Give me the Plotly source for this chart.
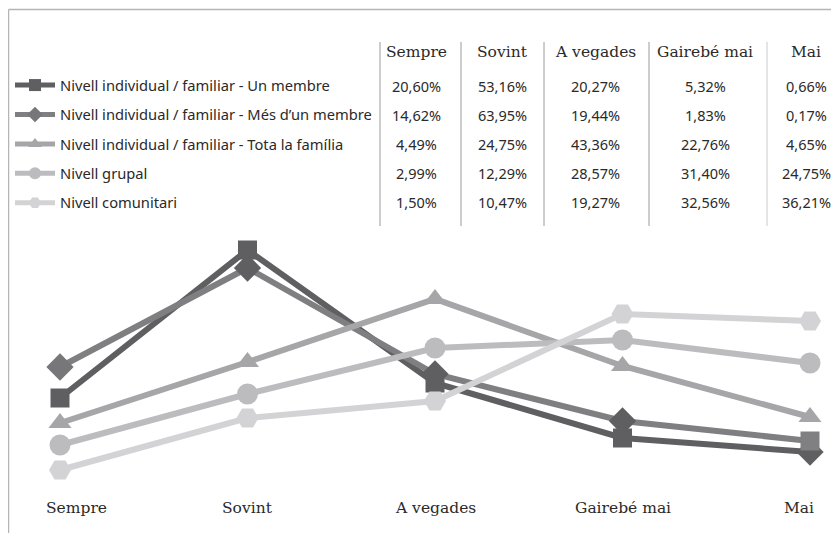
import plotly.graph_objects as go

# ---- data ----
categories = ["Sempre", "Sovint", "A vegades", "Gairebé mai", "Mai"]
series_names = [
    "Nivell individual / familiar - Un membre",
    "Nivell individual / familiar - Més d’un membre",
    "Nivell individual / familiar - Tota la família",
    "Nivell grupal",
    "Nivell comunitari",
]
# table values (%)
tab_un_membre = [20.60, 53.16, 20.27, 5.32, 0.66]
tab_mes_dun = [14.62, 63.95, 19.44, 1.83, 0.17]
tab_tota = [4.49, 24.75, 43.36, 22.76, 4.65]
tab_grupal = [2.99, 12.29, 28.57, 31.40, 24.75]
tab_comunitari = [1.50, 10.47, 19.27, 32.56, 36.21]
# plotted levels as drawn in the graphic (unlabelled scale)
line_un_membre = [32.8, 92.0, 38.8, 16.8, 11.2]
line_mes_dun = [45.2, 84.8, 42.4, 23.6, 15.6]
line_tota = [22.8, 47.2, 72.4, 45.6, 25.2]
line_grupal = [14.0, 34.4, 52.8, 56.0, 46.8]
line_comunitari = [4.0, 24.8, 31.6, 66.4, 63.6]

tables = [tab_un_membre, tab_mes_dun, tab_tota, tab_grupal, tab_comunitari]
lines = [line_un_membre, line_mes_dun, line_tota, line_grupal, line_comunitari]

# ---- styles ----
OFF = 8  # page body margin
W, H = 839 - OFF, 533 - OFF
line_colors = ["#5f5f62", "#7f7f82", "#a6a6a9", "#bcbcbf", "#d3d3d5"]
symbols = [
    ["square", "square", "square", "square", "diamond"],
    ["diamond", "diamond", "diamond", "diamond", "square"],
    ["triangle-up"] * 5,
    ["circle"] * 5,
    ["hexagon2"] * 5,
]
marker_colors = [
    ["#5f5f62"] * 5,
    ["#77777a", "#5f5f62", "#5f5f62", "#5f5f62", "#808083"],
    ["#a6a6a9"] * 5,
    ["#bcbcbf"] * 5,
    ["#d3d3d5"] * 5,
]
marker_sizes = [
    [19, 19, 19, 19, 21],
    [21, 21, 21, 21, 19],
    [20] * 5,
    [21] * 5,
    [22] * 5,
]

xs = list(range(len(categories)))
fig = go.Figure()
for i, name in enumerate(series_names):
    fig.add_trace(go.Scatter(
        x=xs, y=lines[i], name=name, mode="lines+markers",
        legendgroup=f"g{i}",
        line=dict(color=line_colors[i], width=6),
        marker=dict(symbol=symbols[i], color=marker_colors[i], size=marker_sizes[i],
                    opacity=1, line=dict(width=0)),
        cliponaxis=False, hoverinfo="skip",
    ))


def px(x):
    return (x - OFF) / W


def py(y):
    return (H - (y - OFF)) / H


annotations = []
serif = "DejaVu Serif"
sans = "Noto Sans"
# category labels below the chart
label_shift = [16, 0, 0, 0, -11]
for i, c in enumerate(categories):
    annotations.append(dict(x=i, xref="x", y=py(508), yref="paper", text=c, showarrow=False,
                            xanchor="center", yanchor="middle", xshift=label_shift[i],
                            font=dict(family=serif, size=15.5, color="#2a2a2a")))
# table
col_centers = [416, 502, 595, 705, 806]
header_y = 52
row_ys = [86, 115, 144, 173, 202]
for j, c in enumerate(categories):
    annotations.append(dict(x=px(col_centers[j]), xref="paper", y=py(header_y), yref="paper", text=c,
                            showarrow=False, xanchor="center", yanchor="middle",
                            font=dict(family=serif, size=15.5, color="#2a2a2a")))
for i, vals in enumerate(tables):
    for j, v in enumerate(vals):
        annotations.append(dict(x=px(col_centers[j]), xref="paper", y=py(row_ys[i]), yref="paper",
                                text=f"{v:.2f}".replace(".", ",") + "%", showarrow=False,
                                xanchor="center", yanchor="middle",
                                font=dict(family=sans, size=14.5, color="#2a2a2a")))

shapes = []
sep_x = [380, 461, 544, 649, 767]
sep_col = ["#9a9a9a", "#9a9a9a", "#9a9a9a", "#9a9a9a", "#cacaca"]
for x, col in zip(sep_x, sep_col):
    shapes.append(dict(type="line", xref="paper", yref="paper", x0=px(x), x1=px(x), y0=py(42), y1=py(226),
                       line=dict(color=col, width=1)))
# frame
shapes.append(dict(type="line", xref="paper", yref="paper", x0=px(8.5), x1=1, y0=py(9.5), y1=py(9.5),
                   line=dict(color="#b5b5b5", width=1.5)))
shapes.append(dict(type="line", xref="paper", yref="paper", x0=px(8.5), x1=px(8.5), y0=py(9.5), y1=0,
                   line=dict(color="#b5b5b5", width=1.5)))

x0_pix = 60 - OFF
scale = 187.5
fig.update_layout(
    width=W, height=H,
    margin=dict(l=0, r=0, t=0, b=0),
    paper_bgcolor="white", plot_bgcolor="white",
    xaxis=dict(range=[-x0_pix / scale, -x0_pix / scale + W / scale], visible=False, domain=[0, 1]),
    yaxis=dict(range=[0, 100], visible=False, domain=[(H - 472) / H, (H - 222) / H]),
    showlegend=True,
    legend=dict(x=px(10), y=py(69), xanchor="left", yanchor="top", bgcolor="rgba(0,0,0,0)",
                font=dict(family=sans, size=14.7, color="#2a2a2a"),
                itemsizing="constant", itemwidth=40, tracegroupgap=7.3, traceorder="grouped"),
    annotations=annotations,
    shapes=shapes,
)

fig.write_html("out.html")
